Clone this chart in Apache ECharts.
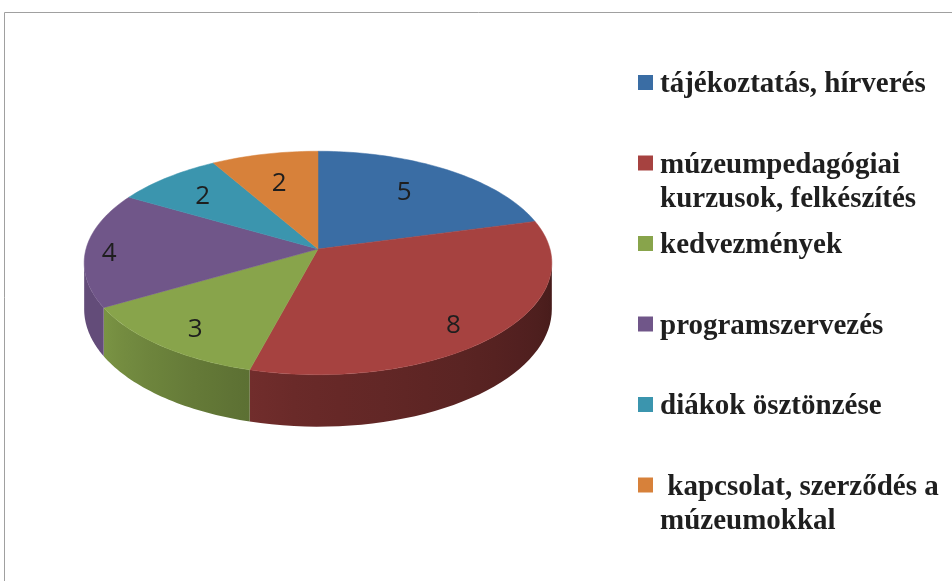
<!DOCTYPE html>
<html>
<head>
<meta charset="utf-8">
<script src="https://cdn.jsdelivr.net/npm/echarts@6/dist/echarts.min.js"></script>
<style>
  html, body { margin: 0; padding: 0; background: #fff; }
  #chart { width: 952px; height: 581px; }
</style>
</head>
<body>
<div id="chart"></div>
<script>
// data
const categories = ['tájékoztatás, hírverés', 'múzeumpedagógiai\nkurzusok, felkészítés', 'kedvezmények',
  'programszervezés', 'diákok ösztönzése', ' kapcsolat, szerződés a\nmúzeumokkal'];
const values = [5, 8, 3, 4, 2, 2];
const colors = ['#3a6da4', '#a64240', '#88a44b', '#705689', '#3b95ae', '#d7813a'];

// pie geometry (perspective tilted disc)
const cx = 318, cy = 249, R = 232, K = 110, P = 0.125, H = 45.5;
const labelR = [0.65, 0.77, 0.8, 0.9, 0.75, 0.7];
const labelDy = [-3, 12, 5, 5, 2, 3];
const total = values.reduce((a, b) => a + b, 0);

function project(t, r, h) {
    var X = r * Math.sin(t), Z = r * Math.cos(t);
    var w = 1 + P * Z;
    return [cx + R * X / w, cy - (K * Z - h) / w];
}

function shade(hex, f) {
    var n = parseInt(hex.slice(1), 16);
    var c = [(n >> 16) & 255, (n >> 8) & 255, n & 255].map(v => Math.min(255, Math.round(v * f)));
    return 'rgb(' + c.join(',') + ')';
}

// wall brightness by angle (lit from the left)
function wallLight(t) {
    var d = t * 180 / Math.PI;
    if (d < 195) return 0.42 + 0.24 * (d - 97) / 98;
    if (d < 240) return 0.68 + 0.22 * (d - 195) / 45;
    return 0.88;
}

const wallFrom = Math.acos(-P), wallTo = 2 * Math.PI - Math.acos(-P);

function renderItem(params, api) {
    var i = params.dataIndex;
    var before = 0;
    for (var k = 0; k < i; k++) before += values[k];
    var a0 = before / total * 2 * Math.PI;
    var a1 = a0 + api.value(0) / total * 2 * Math.PI;
    var children = [];

    // outer wall (front part only)
    var s = Math.max(a0, wallFrom), e = Math.min(a1, wallTo);
    if (s < e) {
        var n = 40, top = [], bot = [];
        for (var j = 0; j <= n; j++) {
            var t = s + (e - s) * j / n;
            top.push(project(t, 1, 0));
            bot.push(project(t, 1, H));
        }
        var pts = top.concat(bot.slice().reverse());
        var xs = top.map(p => p[0]);
        var minX = Math.min.apply(null, xs), maxX = Math.max.apply(null, xs);
        var stops = [];
        for (var j = 0; j <= n; j += 4) {
            var t = s + (e - s) * j / n;
            var off = (top[j][0] - minX) / (maxX - minX || 1);
            stops.push({ offset: off, color: shade(colors[i], wallLight(t)) });
        }
        stops.sort((p, q) => p.offset - q.offset);
        children.push({
            type: 'polygon',
            shape: { points: pts },
            style: {
                fill: new echarts.graphic.LinearGradient(0, 0, 1, 0, stops),
                stroke: null
            }
        });
    }

    // top face
    var face = [[cx, cy]];
    var m = Math.max(8, Math.round((a1 - a0) * 40));
    for (var j = 0; j <= m; j++) face.push(project(a0 + (a1 - a0) * j / m, 1, 0));
    children.push({
        type: 'polygon',
        shape: { points: face },
        style: { fill: colors[i], stroke: colors[i], lineWidth: 0.5 }
    });

    // value label
    var lp = project((a0 + a1) / 2, labelR[i], 0);
    children.push({
        type: 'text',
        x: lp[0], y: lp[1] + labelDy[i],
        style: {
            text: String(api.value(0)),
            fill: '#1e1e1e',
            font: '26px "Open Sans", sans-serif',
            align: 'center',
            verticalAlign: 'middle'
        }
    });
    return { type: 'group', children: children };
}

// legend built from the category list
var legendItems = [];
categories.forEach(function (name, i) {
    var yc = 83 + i * 80.5;
    legendItems.push({
        type: 'rect',
        shape: { x: 638, y: yc - 8, width: 15, height: 15 },
        style: { fill: colors[i] }
    });
    legendItems.push({
        type: 'text',
        x: 660, y: yc - 15,
        style: {
            text: name,
            fill: '#1f1f1f',
            font: 'bold 29px "Liberation Serif", serif',
            lineHeight: 34,
            verticalAlign: 'top'
        }
    });
});

var chartDom = document.getElementById('chart');
var myChart = echarts.init(chartDom, null, { renderer: 'canvas' });
var option = {
    backgroundColor: '#fff',
    animation: false,
    graphic: [
        {
            type: 'rect',
            shape: { x: 4.5, y: 12.5, width: 1000, height: 1000 },
            style: { fill: 'none', stroke: '#a0a0a0', lineWidth: 1 }
        },
        { type: 'group', children: legendItems }
    ],
    series: [
        {
            type: 'custom',
            coordinateSystem: 'none',
            renderItem: renderItem,
            data: values.map((v, i) => ({ value: v, name: categories[i] }))
        }
    ]
};
myChart.setOption(option);
</script>
</body>
</html>
